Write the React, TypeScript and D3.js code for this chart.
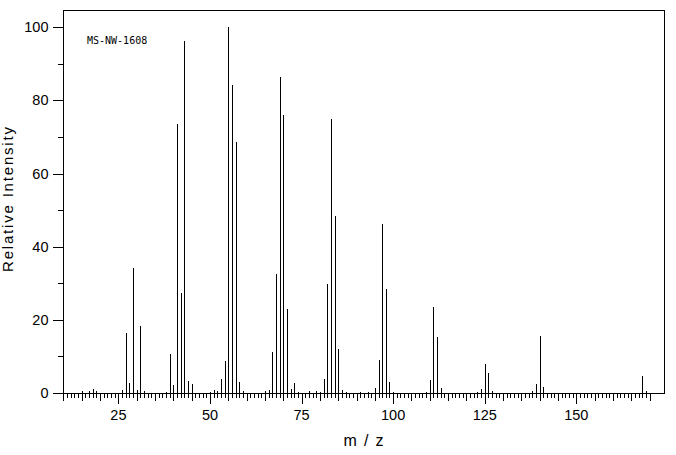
import React from "react";
import * as d3 from "d3";

const massValues: number[] = [
  15, 17, 18, 19, 26, 27, 28, 29, 30, 31, 32, 38, 39, 40, 41, 42, 43, 44, 45,
  50, 51, 52, 53, 54, 55, 56, 57, 58, 59, 65, 66, 67, 68, 69, 70, 71, 72, 73,
  74, 77, 79, 80, 81, 82, 83, 84, 85, 86, 87, 91, 93, 95, 96, 97, 98, 99, 100,
  109, 110, 111, 112, 113, 123, 124, 125, 126, 127, 138, 139, 140, 141, 168, 169,
];
const intensityValues: number[] = [
  0.5, 0.5, 1.2, 0.6, 0.7, 16.4, 2.8, 34.3, 0.9, 18.4, 0.6, 0.4, 10.7, 2.3, 73.6, 27.3, 96.3, 3.4, 2.5,
  0.4, 0.7, 0.5, 3.9, 8.8, 100, 84.2, 68.7, 3.1, 0.6, 0.6, 0.9, 11.3, 32.6, 86.4, 76.0, 23.0, 1.2, 2.8,
  0.4, 0.6, 0.6, 0.4, 3.9, 29.9, 75.0, 48.4, 12.1, 0.9, 0.4, 0.4, 0.4, 1.5, 9.1, 46.3, 28.5, 3.1, 0.4,
  0.4, 3.6, 23.6, 15.4, 1.5, 0.4, 1.2, 8.0, 5.6, 0.6, 0.6, 2.5, 15.7, 1.7, 4.7, 0.6,
];
const xTickLabels: number[] = [25, 50, 75, 100, 125, 150];
const yTickLabels: number[] = [0, 20, 40, 60, 80, 100];
const yMinorTicks: number[] = [10, 30, 50, 70, 90];
const xTickRange: number[] = [10, 170];
const xDomain: [number, number] = [9.87, 173.94];
const yDomain: [number, number] = [0, 104.7];
const sampleLabel = "MS-NW-1608";
const xTitle = "m/z";
const yTitle = "Relative Intensity";

const W = 676;
const H = 455;
const left = 63;
const right = 664;
const top = 10;
const bottom = 393;

export default function App() {
  const x = d3.scaleLinear().domain(xDomain).range([left, right]);
  const y = d3.scaleLinear().domain(yDomain).range([bottom, top]);
  const px = (v: number) => Math.round(v) + 0.5;
  const minorX = d3.range(xTickRange[0], xTickRange[1] + 1);
  const peaks = massValues.map((m, i) => ({ m, v: intensityValues[i] }));
  const tickFont = "'Liberation Sans', Arial, sans-serif";

  return (
    <div style={{ position: "absolute", left: 0, top: 0 }}>
      <svg width={W} height={H} style={{ display: "block", background: "#fff" }}>
        <rect x={px(left)} y={px(top)} width={Math.round(right) - Math.round(left)} height={Math.round(bottom) - Math.round(top)} fill="none" stroke="#000" strokeWidth={1} shapeRendering="crispEdges" />
        {peaks.map((p) => (
          <line key={p.m} x1={px(x(p.m))} x2={px(x(p.m))} y1={px(y(0))} y2={Math.round(y(p.v))} stroke="#000" strokeWidth={1} shapeRendering="crispEdges" />
        ))}
        {minorX.map((m) => {
          const len = m % 25 === 0 ? 10 : m % 5 === 0 ? 7 : 4;
          return <line key={"xt" + m} x1={px(x(m))} x2={px(x(m))} y1={px(bottom)} y2={px(bottom) + len} stroke="#000" strokeWidth={1} shapeRendering="crispEdges" />;
        })}
        {xTickLabels.map((m) => (
          <text key={"xl" + m} x={x(m)} y={420} textAnchor="middle" fontFamily={tickFont} fontSize={14.5} fill="#000">{m}</text>
        ))}
        {yTickLabels.map((v) => (
          <g key={"yl" + v}>
            <line x1={left - 10} x2={px(left)} y1={px(y(v))} y2={px(y(v))} stroke="#000" strokeWidth={1} shapeRendering="crispEdges" />
            <text x={48.5} y={y(v) + 5} textAnchor="end" fontFamily={tickFont} fontSize={14.5} fill="#000">{v}</text>
          </g>
        ))}
        {yMinorTicks.map((v) => (
          <line key={"ym" + v} x1={left - 5} x2={px(left)} y1={px(y(v))} y2={px(y(v))} stroke="#000" strokeWidth={1} shapeRendering="crispEdges" />
        ))}
        <text x={87} y={44} fontFamily="'DejaVu Sans Mono', monospace" fontSize={10} fill="#000">{sampleLabel}</text>
        <text x={(left + right) / 2} y={446} textAnchor="middle" fontFamily={tickFont} fontSize={16} textLength={40} lengthAdjust="spacing" fill="#000">{xTitle}</text>
        <text transform="translate(13,199.5) rotate(-90)" textAnchor="middle" fontFamily={tickFont} fontSize={15} textLength={145} lengthAdjust="spacing" fill="#000">{yTitle}</text>
      </svg>
    </div>
  );
}
